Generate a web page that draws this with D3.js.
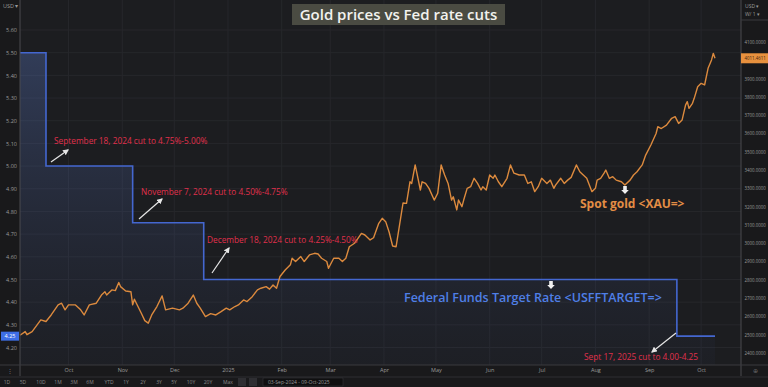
<!DOCTYPE html>
<html lang="en">
<head>
    <meta charset="UTF-8">
    <title>Gold prices vs Fed rate cuts</title>
    <script src="https://cdn.jsdelivr.net/npm/d3@7/dist/d3.min.js"></script>
    <style>
        html, body { margin: 0; padding: 0; background: #1a1a1c; }
        svg { display: block; }
    </style>
</head>
<body>
    <div class="chart"></div>
</body>
<script>
    // spot gold
    const goldDates = [
        '2024-09-03','2024-09-06','2024-09-07','2024-09-10','2024-09-15','2024-09-18','2024-09-21','2024-09-25','2024-09-27','2024-09-29',
        '2024-10-01','2024-10-05','2024-10-08','2024-10-10','2024-10-13','2024-10-17','2024-10-20','2024-10-22','2024-10-23','2024-10-26',
        '2024-10-28','2024-10-30','2024-10-31','2024-11-03','2024-11-06','2024-11-07','2024-11-08','2024-11-12','2024-11-14','2024-11-16',
        '2024-11-18','2024-11-21','2024-11-24','2024-11-26','2024-11-30','2024-12-04','2024-12-06','2024-12-09','2024-12-12','2024-12-14',
        '2024-12-16','2024-12-19','2024-12-22','2024-12-25','2024-12-28','2024-12-31','2025-01-02','2025-01-05','2025-01-07','2025-01-10',
        '2025-01-12','2025-01-15','2025-01-18','2025-01-20','2025-01-23','2025-01-25','2025-01-27','2025-01-29','2025-01-31','2025-02-03',
        '2025-02-06','2025-02-07','2025-02-09','2025-02-12','2025-02-14','2025-02-17','2025-02-20','2025-02-22','2025-02-24','2025-02-27',
        '2025-02-28','2025-03-03','2025-03-06','2025-03-08','2025-03-10','2025-03-12','2025-03-15','2025-03-17','2025-03-19','2025-03-21',
        '2025-03-24','2025-03-26','2025-03-29','2025-03-31','2025-04-02','2025-04-04','2025-04-06','2025-04-08','2025-04-10','2025-04-12',
        '2025-04-14','2025-04-16','2025-04-17','2025-04-19','2025-04-20','2025-04-22','2025-04-23','2025-04-25','2025-04-27','2025-04-30',
        '2025-05-02','2025-05-04','2025-05-06','2025-05-08','2025-05-10','2025-05-11','2025-05-13','2025-05-14','2025-05-16','2025-05-17',
        '2025-05-19','2025-05-21','2025-05-23','2025-05-25','2025-05-27','2025-05-28','2025-05-30','2025-06-01','2025-06-03','2025-06-04',
        '2025-06-06','2025-06-08','2025-06-11','2025-06-13','2025-06-15','2025-06-18','2025-06-21','2025-06-23','2025-06-25','2025-06-27',
        '2025-06-29','2025-07-01','2025-07-04','2025-07-06','2025-07-08','2025-07-09','2025-07-12','2025-07-14','2025-07-16','2025-07-18',
        '2025-07-21','2025-07-23','2025-07-25','2025-07-27','2025-07-30','2025-08-01','2025-08-02','2025-08-04','2025-08-06','2025-08-07',
        '2025-08-09','2025-08-11','2025-08-13','2025-08-16','2025-08-18','2025-08-21','2025-08-23','2025-08-25','2025-08-28','2025-08-30',
        '2025-09-02','2025-09-05','2025-09-06','2025-09-08','2025-09-11','2025-09-14','2025-09-16','2025-09-18','2025-09-20','2025-09-22',
        '2025-09-23','2025-09-24','2025-09-26','2025-09-27','2025-09-29','2025-10-01','2025-10-03','2025-10-05','2025-10-07','2025-10-08',
        '2025-10-09'
    ]
    const goldPrices = [
        2497, 2517, 2500, 2517, 2581, 2572, 2608, 2663, 2672, 2636,
        2663, 2663, 2636, 2608, 2663, 2672, 2717, 2735, 2717, 2745,
        2741, 2785, 2763, 2739, 2735, 2663, 2694, 2617, 2577, 2563,
        2608, 2654, 2712, 2636, 2645, 2636, 2645, 2672, 2717, 2672,
        2645, 2599, 2615, 2608, 2626, 2645, 2636, 2654, 2663, 2690,
        2681, 2708, 2745, 2754, 2763, 2749, 2772, 2754, 2818, 2854,
        2882, 2918, 2900, 2927, 2900, 2936, 2945, 2941, 2918, 2900,
        2863, 2918, 2918, 2900, 2918, 2981, 3000, 3027, 3054, 3045,
        3018, 3030, 3109, 3136, 3118, 3060, 2985, 2981, 3100, 3220,
        3218, 3336, 3327, 3428, 3383, 3291, 3336, 3327, 3300, 3236,
        3273, 3428, 3373, 3327, 3236, 3254, 3182, 3236, 3200, 3236,
        3300, 3309, 3355, 3327, 3291, 3309, 3291, 3373, 3355, 3373,
        3336, 3309, 3355, 3428, 3383, 3373, 3373, 3327, 3336, 3282,
        3309, 3355, 3327, 3345, 3300, 3318, 3355, 3327, 3345, 3360,
        3428, 3391, 3373, 3355, 3282, 3300, 3345, 3355, 3383, 3400,
        3355, 3364, 3345, 3336, 3318, 3345, 3373, 3391, 3428, 3482,
        3537, 3600, 3637, 3627, 3646, 3683, 3692, 3655, 3673, 3755,
        3774, 3737, 3765, 3792, 3855, 3874, 3865, 3956, 4002, 4038,
        4011
    ]
    // fed funds target rate (upper bound), step changes
    const rateDates = ['2024-09-03', '2024-09-18', '2024-11-07', '2024-12-18', '2025-09-17', '2025-10-09']
    const rateValues = [5.50, 5.00, 4.75, 4.50, 4.25, 4.25]

    const rateTicks = [4.20, 4.30, 4.40, 4.50, 4.60, 4.70, 4.80, 4.90, 5.00, 5.10, 5.20, 5.30, 5.40, 5.50, 5.60]
    const goldTicks = [2400, 2500, 2600, 2700, 2800, 2900, 3000, 3100, 3200, 3300, 3400, 3500, 3600, 3700, 3800, 3900, 4100]
    const rangeButtons = ['1D', '5D', '10D', '1M', '3M', '6M', 'YTD', '1Y', '2Y', '3Y', '5Y', '10Y', '20Y', 'Max']

    const cuts = [
        { text: 'September 18, 2024 cut to 4.75%-5.00%', x: 54, y: 144, arrow: [51, 162, 68, 150] },
        { text: 'November 7, 2024 cut to 4.50%-4.75%', x: 141, y: 195, arrow: [139, 219, 162, 199] },
        { text: 'December 18, 2024 cut to 4.25%-4.50%', x: 207, y: 243, arrow: [212, 273, 229, 248] },
        { text: 'Sept 17, 2025 cut to 4.00-4.25', x: 584, y: 360, arrow: [676, 333, 652, 352] }
    ]

    const width = 768
    const height = 387
    const plot = { left: 20, right: 741, top: 0, bottom: 365 }
    const font = '"Open Sans", "Noto Sans", sans-serif'

    const parse = d3.timeParse('%Y-%m-%d')
    const gold = goldDates.map((d, i) => ({ date: parse(d), value: goldPrices[i] }))
    const rate = rateDates.map((d, i) => ({ date: parse(d), value: rateValues[i] }))

    const svg = d3.select('.chart')
        .append('svg')
        .attr('width', width)
        .attr('height', height)
        .style('font-family', font)

    const defs = svg.append('defs')
    const grad = defs.append('linearGradient')
        .attr('id', 'rateFill')
        .attr('gradientUnits', 'userSpaceOnUse')
        .attr('x1', 0).attr('x2', 0).attr('y1', 50).attr('y2', plot.bottom)
    grad.append('stop').attr('offset', 0).attr('stop-color', '#6080d0').attr('stop-opacity', 0.32)
    grad.append('stop').attr('offset', 1).attr('stop-color', '#3a4a80').attr('stop-opacity', 0.05)

    defs.append('marker')
        .attr('id', 'head')
        .attr('viewBox', '0 0 10 10')
        .attr('refX', 8).attr('refY', 5)
        .attr('markerWidth', 5).attr('markerHeight', 5)
        .attr('orient', 'auto')
        .append('path')
        .attr('d', 'M0,0 L10,5 L0,10 z')
        .attr('fill', '#e6e6e6')

    svg.append('rect')
        .attr('width', width).attr('height', height)
        .attr('fill', '#19191b')
    svg.append('rect')
        .attr('x', plot.left).attr('y', 0)
        .attr('width', plot.right - plot.left).attr('height', plot.bottom)
        .attr('fill', '#1c1d20')

    const x = d3.scaleTime()
        .domain([parse('2024-09-03'), parse('2025-10-24')])
        .range([plot.left, plot.right])
    const yRate = d3.scaleLinear().domain([4.20, 5.60]).range([347.5, 30])
    const yGold = d3.scaleLinear().domain([2400, 4100]).range([353, 42])

    // grid
    const months = x.ticks(d3.timeMonth.every(1)).filter(d => d > x.domain()[0])
    svg.append('g').selectAll('line')
        .data(rateTicks)
        .enter().append('line')
        .attr('x1', plot.left).attr('x2', plot.right)
        .attr('y1', d => yRate(d)).attr('y2', d => yRate(d))
        .attr('stroke', '#26272b').attr('stroke-width', 1)
    svg.append('g').selectAll('line')
        .data(months)
        .enter().append('line')
        .attr('x1', d => x(d)).attr('x2', d => x(d))
        .attr('y1', 0).attr('y2', plot.bottom)
        .attr('stroke', '#26272b').attr('stroke-width', 1)

    // fed rate area + step line
    const area = d3.area()
        .curve(d3.curveStepAfter)
        .x(d => x(d.date))
        .y0(plot.bottom)
        .y1(d => yRate(d.value))
    svg.append('path')
        .datum(rate)
        .attr('d', area)
        .attr('fill', 'url(#rateFill)')
    const step = d3.line()
        .curve(d3.curveStepAfter)
        .x(d => x(d.date))
        .y(d => yRate(d.value))
    svg.append('path')
        .datum(rate)
        .attr('d', step)
        .attr('fill', 'none')
        .attr('stroke', '#4467d0')
        .attr('stroke-width', 1.6)

    // gold line
    const line = d3.line()
        .x(d => x(d.date))
        .y(d => yGold(d.value))
    svg.append('path')
        .datum(gold)
        .attr('d', line)
        .attr('fill', 'none')
        .attr('stroke', '#dc8a3e')
        .attr('stroke-width', 1.4)
        .attr('stroke-linejoin', 'round')

    // axes
    const gLeft = svg.append('g')
        .attr('transform', `translate(${plot.left}, 0)`)
        .call(d3.axisLeft(yRate).tickValues(rateTicks).tickFormat(d3.format('.2f')).tickSize(0).tickPadding(3))
    const gRight = svg.append('g')
        .attr('transform', `translate(${plot.right}, 0)`)
        .call(d3.axisRight(yGold).tickValues(goldTicks).tickFormat(d3.format('.4f')).tickSize(0).tickPadding(4))
    const gBottom = svg.append('g')
        .attr('transform', `translate(0, ${plot.bottom})`)
        .call(d3.axisBottom(x).tickValues(months).tickSize(0).tickPadding(3)
            .tickFormat(d => d.getMonth() === 0 ? d3.timeFormat('%Y')(d) : d3.timeFormat('%b')(d)))
    ;[gLeft, gRight, gBottom].forEach(g => {
        g.select('.domain').remove()
        g.selectAll('text').attr('fill', '#9a9a9a').attr('font-size', 5.5).attr('font-family', font)
    })
    gLeft.selectAll('text').attr('x', -3)
    gRight.selectAll('text').attr('font-size', 4.4).attr('x', 3.5)

    // frame lines
    svg.append('line').attr('x1', plot.left).attr('x2', plot.left).attr('y1', 0).attr('y2', 376)
        .attr('stroke', '#4a4a4e').attr('stroke-width', 1)
    svg.append('line').attr('x1', plot.right).attr('x2', plot.right).attr('y1', 0).attr('y2', 376)
        .attr('stroke', '#4a4a4e').attr('stroke-width', 1)
    svg.append('line').attr('x1', 0).attr('x2', width).attr('y1', plot.bottom).attr('y2', plot.bottom)
        .attr('stroke', '#3a3a3e').attr('stroke-width', 1)
    svg.append('line').attr('x1', 0).attr('x2', width).attr('y1', 377).attr('y2', 377)
        .attr('stroke', '#2e2e32').attr('stroke-width', 1)
    svg.append('line').attr('x1', plot.right).attr('x2', width).attr('y1', 20).attr('y2', 20)
        .attr('stroke', '#3a3a3e').attr('stroke-width', 1)

    // corner labels
    svg.append('text').attr('x', 3).attr('y', 8).text('USD ▾')
        .attr('fill', '#9a9a9a').attr('font-size', 5.5)
    svg.append('text').attr('x', 745).attr('y', 8).text('USD     ▾')
        .attr('fill', '#9a9a9a').attr('font-size', 5)
    svg.append('text').attr('x', 745).attr('y', 16).text('W/ 1     ▾')
        .attr('fill', '#9a9a9a').attr('font-size', 5)
    svg.append('text').attr('x', 10).attr('y', 373).attr('text-anchor', 'middle').text('⋮')
        .attr('fill', '#777').attr('font-size', 6)
    svg.append('text').attr('x', 755).attr('y', 373).attr('text-anchor', 'middle').text('⊕')
        .attr('fill', '#666').attr('font-size', 6)

    // last value tags
    const lastGold = gold[gold.length - 1]
    svg.append('rect').attr('x', plot.right).attr('y', yGold(lastGold.value) - 5)
        .attr('width', width - plot.right).attr('height', 10).attr('fill', '#e8913e')
    svg.append('text').attr('x', plot.right + 3.5).attr('y', yGold(lastGold.value) + 1.6)
        .text(d3.format('.4f')(lastGold.value + 0.4611))
        .attr('fill', '#3a2410').attr('font-size', 4.4)
    const lastRate = rate[rate.length - 1]
    svg.append('rect').attr('x', 1).attr('y', yRate(lastRate.value) - 4.5)
        .attr('width', plot.left - 2).attr('height', 9).attr('fill', '#3d6ee6')
    svg.append('text').attr('x', 10).attr('y', yRate(lastRate.value) + 2).attr('text-anchor', 'middle')
        .text(d3.format('.2f')(lastRate.value))
        .attr('fill', '#ffffff').attr('font-size', 5.5)

    // range buttons row
    const btnX = [7, 23, 41, 58, 74, 90, 109, 126, 143, 159, 174, 191, 208, 228]
    svg.append('g').selectAll('text')
        .data(rangeButtons)
        .enter().append('text')
        .attr('x', (d, i) => btnX[i]).attr('y', 384)
        .attr('text-anchor', 'middle')
        .text(d => d)
        .attr('fill', '#8a8a8a').attr('font-size', 5)
    svg.append('rect').attr('x', 238).attr('y', 378).attr('width', 8).attr('height', 8).attr('fill', '#2e2e32')
    svg.append('rect').attr('x', 249).attr('y', 378).attr('width', 8).attr('height', 8).attr('fill', '#2e2e32')
    svg.append('rect').attr('x', 263).attr('y', 378).attr('width', 80).attr('height', 8).attr('fill', '#0f0f10')
        .attr('stroke', '#3a3a3e').attr('stroke-width', 0.5)
    svg.append('text').attr('x', 268).attr('y', 384).text('03-Sep-2024  -  09-Oct-2025')
        .attr('fill', '#9a9a9a').attr('font-size', 5)

    // title
    svg.append('rect').attr('x', 292).attr('y', 4).attr('width', 213).attr('height', 21)
        .attr('fill', '#4a4b42')
    svg.append('text').attr('x', 398.5).attr('y', 20).attr('text-anchor', 'middle')
        .text('Gold prices vs Fed rate cuts')
        .attr('fill', '#f2f2ee').attr('font-size', 15).attr('font-weight', 600)

    // cut annotations
    cuts.forEach(c => {
        svg.append('text').attr('x', c.x).attr('y', c.y).text(c.text)
            .attr('fill', '#e0304c').attr('font-size', 8.3)
        svg.append('line')
            .attr('x1', c.arrow[0]).attr('y1', c.arrow[1])
            .attr('x2', c.arrow[2]).attr('y2', c.arrow[3])
            .attr('stroke', '#e6e6e6').attr('stroke-width', 1.2)
            .attr('marker-end', 'url(#head)')
    })

    // series labels
    function downArrow(cx, cy) {
        svg.append('path')
            .attr('d', `M${cx - 1.8},${cy - 5} h3.6 v4 h2 l-3.8,4 l-3.8,-4 h2 z`)
            .attr('fill', '#f0f0f0')
    }
    downArrow(625, 191)
    svg.append('text').attr('x', 580).attr('y', 208).text('Spot gold <XAU=>')
        .attr('fill', '#e38d45').attr('font-size', 12).attr('font-weight', 700)
    downArrow(551, 286)
    svg.append('text').attr('x', 404).attr('y', 302).text('Federal Funds Target Rate <USFFTARGET=>')
        .attr('fill', '#4f7fe6').attr('font-size', 12.5).attr('font-weight', 600)
</script>
</html>
